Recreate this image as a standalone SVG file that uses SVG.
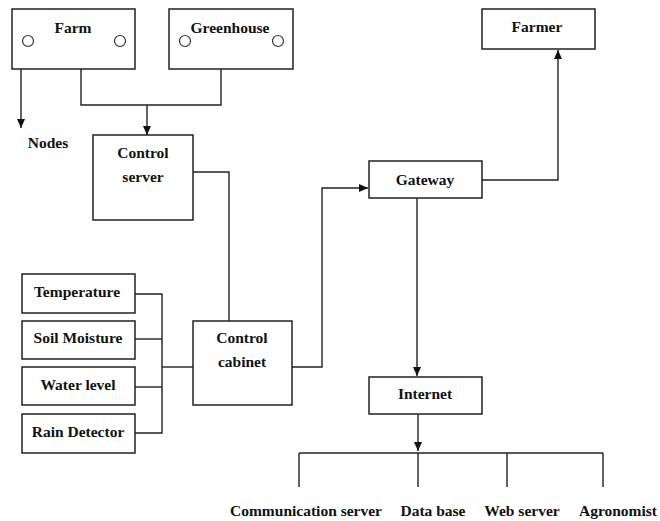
<svg xmlns="http://www.w3.org/2000/svg" width="660" height="521" viewBox="0 0 660 521">
<style>
.box{fill:#fff;stroke:#222;stroke-width:1.5}
.c{fill:#fff;stroke:#333;stroke-width:1.2}
.ln{fill:none;stroke:#222;stroke-width:1.4}
text{font-family:"Liberation Serif","Times New Roman",serif;font-weight:bold;font-size:15.5px;fill:#111;text-anchor:middle}
</style>
<defs>
<marker id="ah" markerWidth="10" markerHeight="10" refX="9" refY="5" orient="auto" markerUnits="userSpaceOnUse">
<path d="M0,1 L9,5 L0,9 Z" fill="#111"/>
</marker>
</defs>
<rect width="660" height="521" fill="#fff"/>
<g id="connectors">
<path class="ln" d="M81,69 V105 H221 V69"/>
<path class="ln" d="M147,105 V135" marker-end="url(#ah)"/>
<path class="ln" d="M21,47 V128" marker-end="url(#ah)"/>
<path class="ln" d="M193,172 H229 V321"/>
<path class="ln" d="M135,294 H162 V433 H135"/>
<path class="ln" d="M135,339 H162"/>
<path class="ln" d="M135,387 H162"/>
<path class="ln" d="M162,367 H193"/>
<path class="ln" d="M292,367 H322 V188 H368" marker-end="url(#ah)"/>
<path class="ln" d="M482,180 H558 V50" marker-end="url(#ah)"/>
<path class="ln" d="M417,198 V376" marker-end="url(#ah)"/>
<path class="ln" d="M418,414 V451" marker-end="url(#ah)"/>
<path class="ln" d="M299,453 H603"/>
<path class="ln" d="M299,453 V487 M418,453 V487 M507,453 V487 M603,453 V487"/>
</g>
<g id="farm">
<rect class="box" x="12" y="9" width="123" height="60"/>
<circle class="c" cx="28" cy="41" r="5.5"/>
<circle class="c" cx="120" cy="41" r="5.5"/>
<text x="73" y="33">Farm</text>
</g>
<g id="greenhouse">
<rect class="box" x="169" y="9" width="124" height="60"/>
<circle class="c" cx="185" cy="41" r="5.5"/>
<circle class="c" cx="278" cy="41" r="5.5"/>
<text x="230" y="33">Greenhouse</text>
</g>
<g id="nodes"><text x="48" y="148">Nodes</text></g>
<g id="control-server">
<rect class="box" x="93" y="135" width="100" height="85"/>
<text x="143" y="158">Control</text>
<text x="143" y="182">server</text>
</g>
<g id="temperature">
<rect class="box" x="22" y="274" width="113" height="39"/>
<text x="77" y="297">Temperature</text>
</g>
<g id="soil-moisture">
<rect class="box" x="22" y="321" width="113" height="38"/>
<text x="78" y="343">Soil Moisture</text>
</g>
<g id="water-level">
<rect class="box" x="22" y="367" width="113" height="38"/>
<text x="78" y="390">Water level</text>
</g>
<g id="rain-detector">
<rect class="box" x="22" y="414" width="113" height="39"/>
<text x="78" y="437">Rain Detector</text>
</g>
<g id="control-cabinet">
<rect class="box" x="193" y="321" width="99" height="84"/>
<text x="242" y="343">Control</text>
<text x="242" y="367">cabinet</text>
</g>
<g id="gateway">
<rect class="box" x="369" y="161" width="113" height="37"/>
<text x="425" y="185">Gateway</text>
</g>
<g id="farmer">
<rect class="box" x="482" y="9" width="113" height="40"/>
<text x="537" y="32">Farmer</text>
</g>
<g id="internet">
<rect class="box" x="369" y="377" width="113" height="37"/>
<text x="425" y="399">Internet</text>
</g>
<g id="communication-server"><text x="306" y="516">Communication server</text></g>
<g id="data-base"><text x="433" y="516">Data base</text></g>
<g id="web-server"><text x="522" y="516">Web server</text></g>
<g id="agronomist"><text x="618" y="516">Agronomist</text></g>
</svg>
